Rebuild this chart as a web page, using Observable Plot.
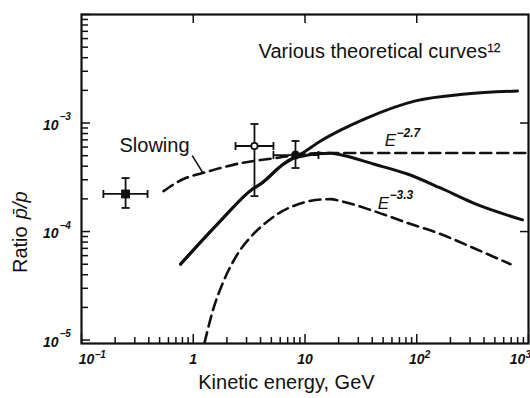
<!DOCTYPE html>
<html>
<head>
<meta charset="utf-8">
<script src="https://cdn.jsdelivr.net/npm/d3@7"></script>
<script src="https://cdn.jsdelivr.net/npm/@observablehq/plot@0.6"></script>
<style>
  body { margin: 0; background: #fff; }
  #chart svg { font-family: "Liberation Sans", Arial, sans-serif; }
</style>
</head>
<body>
<div id="chart"></div>
<script>
// Axis ticks and labels
const energyMajor = [0.1, 1, 10, 100, 1000];
const energyBase = ["10", "1", "10", "10", "10"];
const energyExp = ["−1", "", "", "2", "3"];
const ratioMajor = [1e-5, 1e-4, 1e-3];
const ratioBase = ["10", "10", "10"];
const ratioExp = ["−5", "−4", "−3"];

// Solid curve rising to ~2e-3 (kinetic energy GeV, ratio)
const risingE = [0.769, 1.75, 3.39, 4.0, 6.43, 7.89, 9.5, 13.8, 20.8, 34.8, 97.5, 273, 798];
const risingR = [5.0e-5, 1.25e-4, 2.46e-4, 2.74e-4, 4.19e-4, 4.76e-4, 5.29e-4, 6.83e-4, 8.6e-4, 1.1e-3, 1.6e-3, 1.85e-3, 1.97e-3];

// Solid curve peaking near 15 GeV
const peakedE = [0.769, 1.75, 3.39, 4.0, 6.43, 7.89, 9.12, 12.9, 16.9, 20.8, 41, 82.6, 163, 322, 884];
const peakedR = [5.0e-5, 1.25e-4, 2.46e-4, 2.74e-4, 4.19e-4, 4.76e-4, 4.92e-4, 5.2e-4, 5.27e-4, 5.1e-4, 4.19e-4, 3.39e-4, 2.52e-4, 1.83e-4, 1.28e-4];

// Dashed "slowing" curve flattening into the E^-2.7 branch
const slowingE = [0.542, 0.818, 1.21, 1.75, 2.65, 4.0, 5.45, 8.22, 13.8, 30, 100, 300, 1000];
const slowingR = [2.36e-4, 3.05e-4, 3.46e-4, 3.85e-4, 4.27e-4, 4.56e-4, 4.76e-4, 5.07e-4, 5.29e-4, 5.3e-4, 5.3e-4, 5.3e-4, 5.3e-4];

// Dashed E^-3.3 curve
const steepE = [1.26, 1.52, 1.87, 2.49, 3.46, 4.43, 5.68, 8.22, 12.4, 16.9, 20.8, 41, 82.6, 163, 322, 690];
const steepR = [9.4e-6, 1.97e-5, 3.5e-5, 6.2e-5, 9.5e-5, 1.2e-4, 1.45e-4, 1.75e-4, 1.95e-4, 1.99e-4, 1.91e-4, 1.55e-4, 1.2e-4, 9.5e-5, 7.05e-5, 5.0e-5];

// Measurements with error bars
const measE = [0.248, 3.53, 8.22];
const measELow = [0.157, 2.39, 5.22];
const measEHigh = [0.39, 5.22, 13.2];
const measR = [2.22e-4, 6.14e-4, 5.07e-4];
const measRLow = [1.65e-4, 2.12e-4, 3.85e-4];
const measRHigh = [3.11e-4, 9.8e-4, 6.83e-4];
const measSymbol = ["square", "open", "filled"];

// Annotations
const slowingLeaderE = [0.985, 1.21];
const slowingLeaderR = [4.96e-4, 3.53e-4];

const width = 530, height = 398;
const margin = {top: 14, right: 2, bottom: 55, left: 81};
const innerW = width - margin.left - margin.right;
const innerH = height - margin.top - margin.bottom;
const ink = "#111";

const decades = [0.1, 1, 10, 100];
const energyMinor = decades.flatMap(d => d3.range(2, 10).map(k => k * d));
const ratioMinor = [1e-5, 1e-4, 1e-3].flatMap(d => d3.range(2, 10).map(k => k * d));

const zip = (xs, ys) => xs.map((x, i) => ({x, y: ys[i]}));
const rising = zip(risingE, risingR);
const peaked = zip(peakedE, peakedR);
const slowing = zip(slowingE, slowingR);
const steep = zip(steepE, steepR);
const leader = zip(slowingLeaderE, slowingLeaderR);
const meas = measE.map((e, i) => ({
  e, r: measR[i], e0: measELow[i], e1: measEHigh[i], r0: measRLow[i], r1: measRHigh[i], kind: measSymbol[i]
}));

// Short cap symbols for the error bars
const hCap = {draw(ctx) { ctx.moveTo(-4, 0); ctx.lineTo(4, 0); }};
const vCap = {draw(ctx) { ctx.moveTo(0, -4); ctx.lineTo(0, 4); }};

const energyTicks = energyMajor.map((v, i) => ({v, base: energyBase[i], exp: energyExp[i]}));
const ratioTicks = ratioMajor.map((v, i) => ({v, base: ratioBase[i], exp: ratioExp[i]}));

const tickFont = {fontStyle: "italic", fontWeight: "bold", fontSize: 14, fill: ink};

// Energy labels: the two end labels are nudged inward so they stay clear of the corners
function energyLabels(ticks, shift) {
  return [
    Plot.text(ticks, {x: "v", text: "base", frameAnchor: "bottom", dy: 20, dx: shift, textAnchor: "middle", ...tickFont}),
    Plot.text(ticks, {x: "v", text: "exp", frameAnchor: "bottom", dy: 14, dx: shift + 8, textAnchor: "start", ...tickFont, fontSize: 10})
  ];
}

const chart = Plot.plot({
  width, height,
  marginTop: margin.top, marginRight: margin.right, marginBottom: margin.bottom, marginLeft: margin.left,
  x: {type: "log", domain: [0.1, 1000], axis: null},
  y: {type: "log", domain: [9.3e-6, 1e-2], axis: null},
  style: {fontFamily: "Liberation Sans, Arial, sans-serif", background: "#fff"},
  marks: [
    // inward ticks
    Plot.tickX(energyMinor, {x: d => d, insetTop: innerH - 6, stroke: ink, strokeWidth: 1.5}),
    Plot.tickX(energyMajor, {x: d => d, insetTop: innerH - 9, stroke: ink, strokeWidth: 1.5}),
    Plot.tickX([1, 10, 100], {x: d => d, insetBottom: innerH - 9, stroke: ink, strokeWidth: 1.5}),
    Plot.tickY(ratioMinor, {y: d => d, insetRight: innerW - 7, stroke: ink, strokeWidth: 1.5}),
    Plot.tickY(ratioMajor.concat([1e-2]), {y: d => d, insetRight: innerW - 9, stroke: ink, strokeWidth: 1.5}),
    Plot.tickY([1e-3, 1e-4], {y: d => d, insetLeft: innerW - 8, stroke: ink, strokeWidth: 1.5}),
    Plot.frame({stroke: ink, strokeWidth: 2.2}),

    // tick labels
    ...energyLabels(energyTicks.slice(0, 1), 5),
    ...energyLabels(energyTicks.slice(1, -1), 0),
    ...energyLabels(energyTicks.slice(-1), -11),
    Plot.text(ratioTicks, {y: "v", text: "base", frameAnchor: "left", dx: -23, dy: 2, textAnchor: "end", ...tickFont}),
    Plot.text(ratioTicks, {y: "v", text: "exp", frameAnchor: "left", dx: -22, dy: -6, textAnchor: "start", ...tickFont, fontSize: 10}),

    // axis titles
    Plot.text(["Kinetic energy, GeV"], {x: 6.82, frameAnchor: "bottom", dy: 45, fontSize: 20, fill: ink}),
    Plot.text(["Ratio"], {y: 4.15e-5, frameAnchor: "left", dx: -61, rotate: -90, fontSize: 20, fill: ink}),
    Plot.text(["p̄/p"], {y: 1.3e-4, frameAnchor: "left", dx: -61, rotate: -90, fontSize: 20, fontStyle: "italic", fill: ink}),

    // theoretical curves
    Plot.line(rising, {x: "x", y: "y", stroke: ink, strokeWidth: 3, curve: "monotone-x"}),
    Plot.line(peaked, {x: "x", y: "y", stroke: ink, strokeWidth: 3, curve: "monotone-x"}),
    Plot.line(slowing, {x: "x", y: "y", stroke: ink, strokeWidth: 2.6, strokeDasharray: "11,6", curve: "monotone-x"}),
    Plot.line(steep, {x: "x", y: "y", stroke: ink, strokeWidth: 2.6, strokeDasharray: "11,6", curve: "monotone-x", clip: true}),
    Plot.line(leader, {x: "x", y: "y", stroke: ink, strokeWidth: 1.6}),

    // error bars
    Plot.ruleX(meas, {x: "e", y1: "r0", y2: "r1", stroke: ink, strokeWidth: 1.8}),
    Plot.ruleY(meas, {y: "r", x1: "e0", x2: "e1", stroke: ink, strokeWidth: 1.8}),
    Plot.dot(meas, {x: "e", y: "r0", symbol: hCap, stroke: ink, strokeWidth: 1.8, fill: "none"}),
    Plot.dot(meas, {x: "e", y: "r1", symbol: hCap, stroke: ink, strokeWidth: 1.8, fill: "none"}),
    Plot.dot(meas, {x: "e0", y: "r", symbol: vCap, stroke: ink, strokeWidth: 1.8, fill: "none"}),
    Plot.dot(meas, {x: "e1", y: "r", symbol: vCap, stroke: ink, strokeWidth: 1.8, fill: "none"}),
    Plot.dot(meas.filter(d => d.kind === "square"), {x: "e", y: "r", symbol: "square", r: 5, fill: ink, stroke: "none"}),
    Plot.dot(meas.filter(d => d.kind === "open"), {x: "e", y: "r", r: 3.2, fill: "#fff", stroke: ink, strokeWidth: 1.8}),
    Plot.dot(meas.filter(d => d.kind === "filled"), {x: "e", y: "r", r: 4.5, fill: ink, stroke: "none"}),

    // curve annotations
    Plot.text(["Slowing"], {x: 0.45, y: 6.14e-4, fontSize: 20, fill: ink}),
    Plot.text(["Various theoretical curves¹²"], {x: 3.84, y: 4.6e-3, textAnchor: "start", fontSize: 20, fill: ink}),
    Plot.text(["E"], {x: 58.2, y: 6.83e-4, fontSize: 17, fontStyle: "italic", fill: ink}),
    Plot.text(["−2.7"], {x: 58.2, y: 6.83e-4, dx: 6, dy: -8, textAnchor: "start", fontSize: 12, fontStyle: "italic", fontWeight: "bold", fill: ink}),
    Plot.text(["E"], {x: 50.4, y: 1.83e-4, fontSize: 17, fontStyle: "italic", fill: ink}),
    Plot.text(["−3.3"], {x: 50.4, y: 1.83e-4, dx: 6, dy: -8, textAnchor: "start", fontSize: 12, fontStyle: "italic", fontWeight: "bold", fill: ink})
  ]
});

document.getElementById("chart").append(chart);
</script>
</body>
</html>
